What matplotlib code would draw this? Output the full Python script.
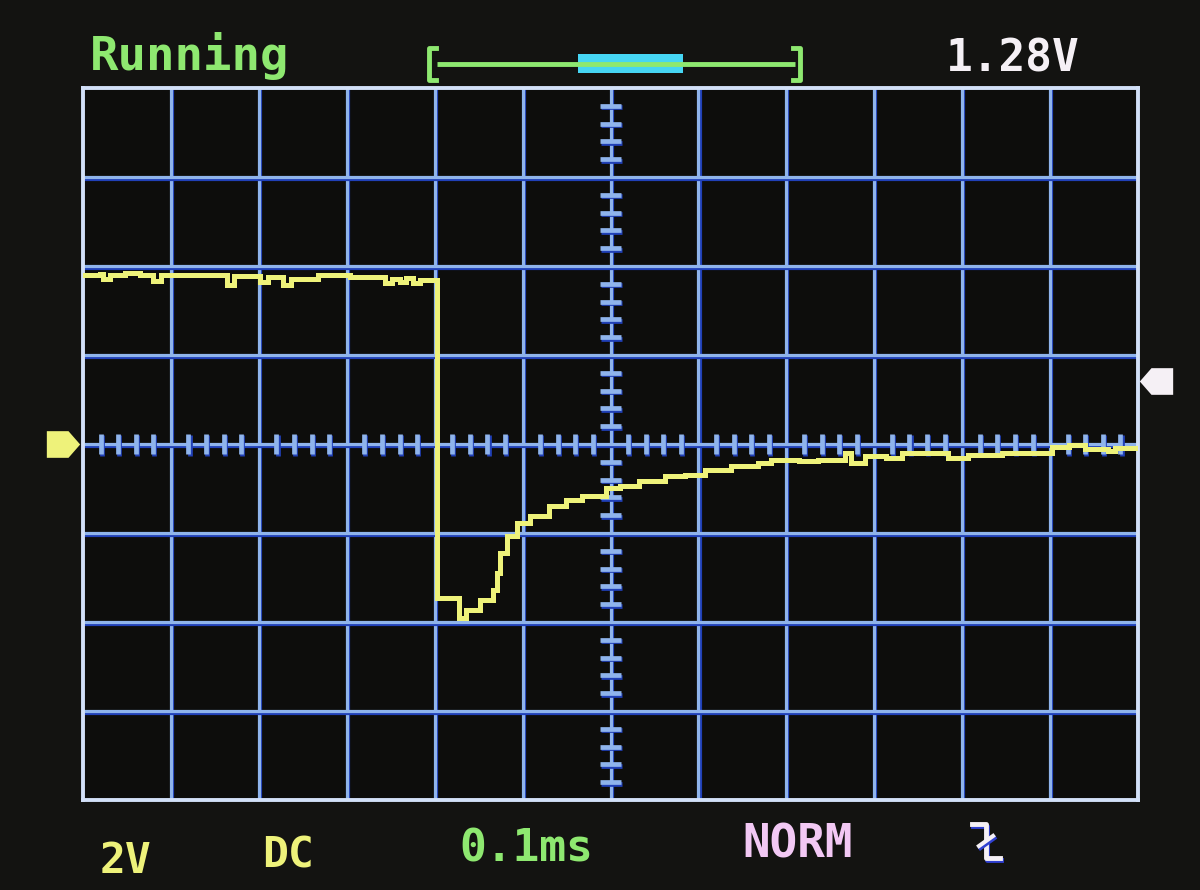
import numpy as np
import matplotlib
matplotlib.use("Agg")
import matplotlib.pyplot as plt
import matplotlib.patheffects as pe

# ── data ─────────────────────────────────────────────────────────────────────
V_PER_DIV   = 2.0      # volts / division
MS_PER_DIV  = 0.1      # ms / division
N_XDIV      = 12
N_YDIV      = 8
TRIG_LEVEL  = 1.42     # where the trigger arrow sits (V)
TRIG_TEXT   = "1.28V"

TIME_MS = [-0.599, -0.581, -0.577, -0.569, -0.552, -0.535, -0.520, -0.511,
           -0.436, -0.428, -0.399, -0.390, -0.372, -0.363, -0.333, -0.296,
           -0.256, -0.248, -0.239, -0.233, -0.225, -0.217, -0.197, -0.172,
           -0.164, -0.149, -0.134, -0.129, -0.126, -0.118, -0.106, -0.091,
           -0.070, -0.051, -0.032, -0.005, 0.011, 0.032, 0.062, 0.085,
           0.108, 0.137, 0.168, 0.183, 0.214, 0.236, 0.267, 0.274,
           0.290, 0.313, 0.331, 0.384, 0.407, 0.445, 0.502, 0.521,
           0.540, 0.566, 0.574, 0.600]
VOLTS   = [3.80, 3.82, 3.71, 3.80, 3.84, 3.80, 3.66, 3.80,
           3.57, 3.78, 3.64, 3.75, 3.57, 3.71, 3.80, 3.75,
           3.62, 3.71, 3.64, 3.73, 3.62, 3.69, -3.46, -3.91,
           -3.73, -3.51, -3.28, -2.90, -2.45, -2.07, -1.78, -1.62,
           -1.39, -1.26, -1.17, -0.99, -0.94, -0.83, -0.72, -0.70,
           -0.58, -0.49, -0.43, -0.36, -0.38, -0.36, -0.20, -0.43,
           -0.27, -0.31, -0.20, -0.31, -0.25, -0.20, -0.06, -0.02,
           -0.11, -0.15, -0.08, -0.08]

STATUS   = "Running"
CH_SCALE = "2V"
COUPLING = "DC"
TIMEBASE = "0.1ms"
MODE     = "NORM"

# ── colours ──────────────────────────────────────────────────────────────────
BG       = "#131311"
SCREEN   = "#0d0d0c"
GRID     = "#8fb4ec"
GRID_SH  = "#2040b8"
FRAME    = "#d2e0f8"
TRACE    = "#eef27a"
GREEN    = "#8ee870"
CYAN     = "#46d6f4"
PINK     = "#f2c8f4"
WHITE    = "#f5f0f5"

W, H = 1200, 890
def fx(x): return x / W
def fy(y): return 1 - y / H

fig = plt.figure(figsize=(12, 8.9), dpi=100)
fig.patch.set_facecolor(BG)

# ── main screen ──────────────────────────────────────────────────────────────
ax = fig.add_axes([fx(83), fy(800), fx(1138) - fx(83), fy(88) - fy(800)])
ax.set_facecolor(SCREEN)
half_t = N_XDIV / 2 * MS_PER_DIV
half_v = N_YDIV / 2 * V_PER_DIV
ax.set_xlim(-half_t, half_t)
ax.set_ylim(-half_v, half_v)
ax.set_xticks([]); ax.set_yticks([])
for s in ax.spines.values():
    s.set_color(FRAME)
    s.set_linewidth(2.8)

shadow = [pe.SimpleLineShadow(offset=(0.8, -1.2), shadow_color=GRID_SH, alpha=1.0), pe.Normal()]
for k in range(1, N_XDIV):
    ax.axvline(-half_t + k * MS_PER_DIV, color=GRID, lw=2.3, path_effects=shadow, zorder=1)
for k in range(1, N_YDIV):
    ax.axhline(-half_v + k * V_PER_DIV, color=GRID, lw=2.3, path_effects=shadow, zorder=1)

# sub-division ticks on the centre cross
sub_t = [k * MS_PER_DIV / 5 for k in range(-30, 31) if k % 5 != 0]
sub_v = [k * V_PER_DIV / 5 for k in range(-20, 21) if k % 5 != 0]
ax.plot(sub_t, np.zeros(len(sub_t)), ls="none", marker="|", ms=15, mew=3.4,
        color=GRID, zorder=2, path_effects=shadow)
ax.plot(np.zeros(len(sub_v)), sub_v, ls="none", marker="_", ms=15, mew=3.4,
        color=GRID, zorder=2, path_effects=shadow)

# trace
ax.plot(TIME_MS, VOLTS, drawstyle="steps-post", color=TRACE, lw=3.6,
        solid_joinstyle="miter", zorder=5)

# ground marker (left) and trigger level marker (right)
gnd = [(1, 0), (0.3, 0.8), (-1, 0.8), (-1, -0.8), (0.3, -0.8), (1, 0)]
trg = [(-1, 0), (-0.3, 0.8), (1, 0.8), (1, -0.8), (-0.3, -0.8), (-1, 0)]
ax.plot([-half_t - 0.023], [0], marker=gnd, ms=24, color=TRACE, mew=0, clip_on=False)
ax.plot([half_t + 0.020], [TRIG_LEVEL], marker=trg, ms=24, color=WHITE, mew=0, clip_on=False)

# ── header / footer decorations ──────────────────────────────────────────────
ov = fig.add_axes([0, 0, 1, 1], facecolor="none")
ov.set_xlim(0, W); ov.set_ylim(H, 0)
ov.set_axis_off()

mono = dict(family="DejaVu Sans Mono", weight="bold")
fig.text(fx(90), fy(70), STATUS, color=GREEN, size=34, va="baseline", **mono)
fig.text(fx(946), fy(72), TRIG_TEXT, color=WHITE, size=32, va="baseline", **mono)

# position slider  [----====----]
ov.plot([437, 795], [64, 64], color=GREEN, lw=3.5, solid_capstyle="butt")
ov.plot([436, 429, 429, 436], [48, 48, 80, 80], color=GREEN, lw=3.5)
ov.plot([793, 800, 800, 793], [48, 48, 80, 80], color=GREEN, lw=3.5)
ov.add_patch(plt.Rectangle((578, 54), 105, 19, color=CYAN, ec="none"))

# footer
fig.text(fx(100), fy(873), CH_SCALE, color=TRACE, size=31, va="baseline", **mono)
fig.text(fx(262), fy(868), COUPLING, color=TRACE, size=31, va="baseline", **mono)
fig.text(fx(459), fy(862), TIMEBASE, color=GREEN, size=32, va="baseline", **mono)
fig.text(fx(742), fy(857), MODE, color=PINK, size=33, va="baseline", **mono)

# falling-edge trigger icon
edge_sh = [pe.SimpleLineShadow(offset=(1, -1.5), shadow_color="#3040d0", alpha=1), pe.Normal()]
ov.plot([972, 986, 986, 1000], [824, 824, 858, 858], color=WHITE, lw=3.5, path_effects=edge_sh)
ov.plot([979, 993], [846, 836], color=WHITE, lw=3, path_effects=edge_sh)

fig.savefig("out.png", dpi=100, facecolor=fig.get_facecolor())
